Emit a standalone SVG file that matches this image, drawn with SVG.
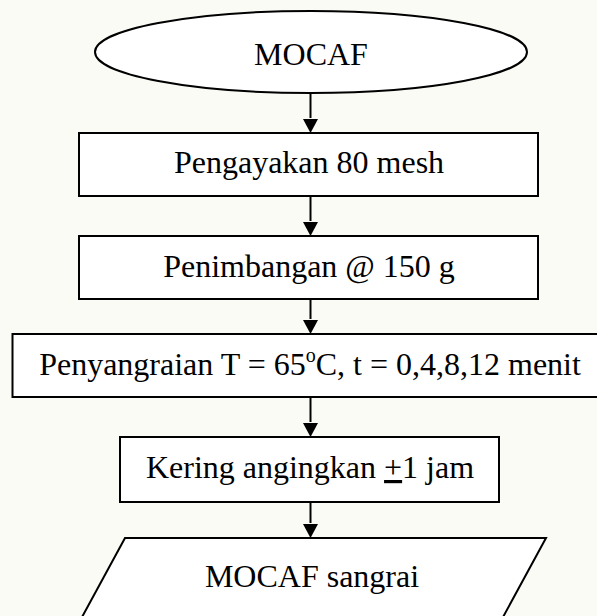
<svg xmlns="http://www.w3.org/2000/svg" width="597" height="616" viewBox="0 0 597 616">
  <style>
    .shape { fill: #ffffff; stroke: #000000; stroke-width: 2; }
    .label { font-family: "Liberation Serif", "Times New Roman", serif; font-size: 32px; fill: #000000; text-anchor: middle; }
    .conn { stroke: #000000; stroke-width: 2; fill: none; }
  </style>
  <defs>
    <marker id="arrow" markerUnits="userSpaceOnUse" markerWidth="16" markerHeight="16" viewBox="0 0 16 16" refX="8" refY="15" orient="auto-start-reverse">
      <path d="M1,1 L15,1 L8,15 Z" fill="#000000" transform="rotate(0)"/>
    </marker>
  </defs>
  <rect x="0" y="0" width="597" height="616" fill="#fbfbf5"/>

  <g id="connectors">
    <line class="conn" x1="310.5" y1="93" x2="310.5" y2="118"/>
    <path d="M303,119 L318,119 L310.5,133 Z" fill="#000"/>
    <line class="conn" x1="310.5" y1="196" x2="310.5" y2="221"/>
    <path d="M303,222 L318,222 L310.5,236 Z" fill="#000"/>
    <line class="conn" x1="310.5" y1="299" x2="310.5" y2="319"/>
    <path d="M303,320 L318,320 L310.5,334 Z" fill="#000"/>
    <line class="conn" x1="310.5" y1="397" x2="310.5" y2="422"/>
    <path d="M303,423 L318,423 L310.5,437 Z" fill="#000"/>
    <line class="conn" x1="310.5" y1="502" x2="310.5" y2="523"/>
    <path d="M303,524 L318,524 L310.5,538 Z" fill="#000"/>
  </g>

  <g id="node-mocaf">
    <ellipse class="shape" cx="311" cy="52" rx="216" ry="41"/>
    <text class="label" x="311" y="65">MOCAF</text>
  </g>

  <g id="node-pengayakan">
    <rect class="shape" x="79" y="133" width="459" height="63"/>
    <text class="label" x="309" y="173">Pengayakan 80 mesh</text>
  </g>

  <g id="node-penimbangan">
    <rect class="shape" x="79" y="236" width="459" height="63"/>
    <text class="label" x="309" y="277">Penimbangan @ 150 g</text>
  </g>

  <g id="node-penyangraian">
    <rect class="shape" x="12.5" y="334" width="590" height="63"/>
    <text class="label" x="310" y="375">Penyangraian T = 65<tspan font-size="20" dy="-13">o</tspan><tspan dy="13">C, t = 0,4,8,12 menit</tspan></text>
  </g>

  <g id="node-kering">
    <rect class="shape" x="120" y="437" width="379" height="65"/>
    <text class="label" x="310" y="478">Kering angingkan <tspan text-decoration="underline">+</tspan>1 jam</text>
  </g>

  <g id="node-mocaf-sangrai">
    <path class="shape" d="M125,538 L546,538 L496,630 L75,630 Z"/>
    <text class="label" x="312" y="587">MOCAF sangrai</text>
  </g>
</svg>
